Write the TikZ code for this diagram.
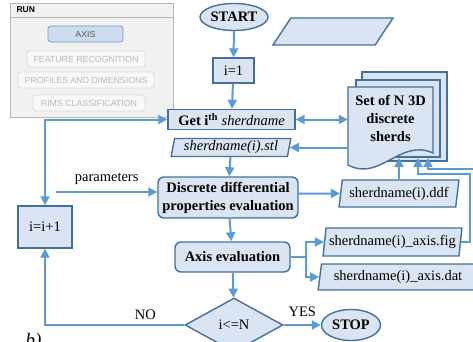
\documentclass[tikz,border=0pt]{standalone}
\usepackage{fontspec}
\setmainfont{Liberation Serif}
\newfontfamily\panelfont{Liberation Sans}
\usetikzlibrary{shapes.geometric,arrows.meta}
\definecolor{boxfill}{RGB}{218,228,242}
\definecolor{boxline}{RGB}{65,113,156}
\definecolor{flowline}{RGB}{91,155,213}
\definecolor{panelbg}{RGB}{241,241,241}
\definecolor{panelline}{RGB}{185,185,185}
\definecolor{btnline}{RGB}{218,218,218}
\definecolor{btntext}{RGB}{185,185,185}
\definecolor{axisfill}{RGB}{205,220,239}
\definecolor{axisline}{RGB}{118,152,194}
\tikzset{
  flow/.style={draw=boxline, fill=boxfill, line width=1.4pt, inner sep=0pt, font=\fontsize{14.5}{18}\selectfont},
  proc/.style={flow, rectangle},
  term/.style={flow, ellipse, font=\fontsize{14.5}{18}\selectfont\bfseries},
  datafile/.style={flow, trapezium, trapezium left angle=78, trapezium right angle=102, trapezium stretches=true},
  link/.style={draw=flowline, line width=2pt, -{Triangle[length=9pt,width=9pt]}},
  twoway/.style={link, {Triangle[length=9pt,width=9pt]}-{Triangle[length=9pt,width=9pt]}},
  btn/.style={draw=btnline, fill=panelbg!50!white, rounded corners=3pt, line width=0.8pt, font=\panelfont\fontsize{8.8}{10}\selectfont, text=btntext},
}
\begin{document}
\begin{tikzpicture}[x=1pt, y=-1pt]
  \useasboundingbox (0,0) rectangle (473,342);
  \clip (0,0) rectangle (473,342);
  \draw[draw=panelline, fill=panelbg] (10,3) rectangle (173,117);
  \draw[panelline] (10,17) -- (173,17);
  \node[anchor=west, font=\panelfont\bfseries\fontsize{8.5}{10}\selectfont] (run) at (13,10) {RUN};
  \node[btn, draw=axisline, fill=axisfill, text=black!65, minimum width=75pt, minimum height=16pt] (axisbtn) at (85.5,34) {AXIS};
  \node[btn, minimum width=118pt, minimum height=16pt] (featbtn) at (86,59) {FEATURE RECOGNITION};
  \node[btn, minimum width=136pt, minimum height=16pt] (profbtn) at (86,80) {PROFILES AND DIMENSIONS};
  \node[btn, minimum width=112pt, minimum height=16pt] (rimsbtn) at (89,103) {RIMS CLASSIFICATION};
  \node[term, minimum width=68pt, minimum height=27pt] (start) at (234,17) {START};
  \node[datafile, inner sep=2pt, minimum width=120pt, minimum height=27pt] (io) at (333,31.5) {};
  \node[proc, minimum width=41pt, minimum height=25pt] (init) at (233.5,70.5) {i=1};
  \node[proc, minimum width=127pt, minimum height=20pt] (get) at (231.5,119.5) {\textbf{Get i\textsuperscript{th}} \textit{sherdname}};
  \node[datafile, minimum width=120pt, minimum height=18pt] (stl) at (231,147.5) {\textit{sherdname(i).stl}};
  \node[proc, rounded corners=6pt, minimum width=140pt, minimum height=41pt, align=center, font=\fontsize{14.5}{18}\selectfont\bfseries] (ddp) at (228,197.5) {Discrete differential\\properties evaluation};
  \node[proc, rounded corners=6pt, minimum width=115pt, minimum height=30pt, font=\fontsize{14.5}{18}\selectfont\bfseries] (axis) at (232.5,257) {Axis evaluation};
  \node[flow, diamond, aspect=1.8, minimum width=98pt, minimum height=54pt] (check) at (234,325) {i<=N};
  \node[proc, minimum width=54pt, minimum height=42pt] (incr) at (45,227) {i=i+1};
  \node[term, minimum width=59pt, minimum height=31pt] (stop) at (351,325) {STOP};
  \node[datafile, minimum width=120pt, minimum height=27pt] (ddf) at (399,193.5) {sherdname(i).ddf};
  \node[datafile, minimum width=139pt, minimum height=28pt] (fig) at (392.5,242) {sherdname(i)\_axis.fig};
  \node[datafile, minimum width=160pt, minimum height=26pt] (dat) at (398,277) {sherdname(i)\_axis.dat};
  \draw[draw=boxline, fill=boxfill, line width=1.4pt] (362,72) rectangle (447,161);
  \draw[draw=boxline, fill=boxfill, line width=1.4pt] (356,80) rectangle (440,157);
  \draw[draw=boxline, fill=boxfill, line width=1.4pt] (348,87) -- (433,87) -- (433,153) .. controls (400,138) and (380,182) .. (348,165) -- cycle;
  \node[align=center, inner sep=0pt, minimum width=85pt, font=\fontsize{14.5}{18}\selectfont\bfseries] (sherds) at (390.5,118) {Set of N 3D\\discrete\\sherds};
  \node[anchor=base west, font=\fontsize{19}{20}\selectfont\itshape] (tag) at (22,346) {b)};
  \coordinate (par) at (56,192);
  \coordinate (fork) at (306,257);
  \coordinate (wave) at (0,158);
  \draw[link] (start) -- (init);
  \draw[link] (init) -- (get);
  \draw[link] (stl) -- (ddp);
  \draw[link] (ddp) -- (axis);
  \draw[link] (axis) -- (check);
  \draw[link] (check) -- node[above=4pt, font=\fontsize{14.5}{18}\selectfont] {YES} (stop);
  \draw[link] (check) -| node[pos=0.14, above=1pt, font=\fontsize{14.5}{18}\selectfont] {NO} (incr);
  \draw[twoway] (incr) |- (get);
  \draw[link] (par) -- node[above=3pt, font=\fontsize{14.5}{18}\selectfont] {parameters} (par -| ddp.west);
  \draw[link] (ddp.east |- ddf) -- (ddf);
  \draw[twoway] (get) -- (get -| sherds.west);
  \draw[link] (stl.east -| sherds.west) -- (stl.east);
  \draw[link] (ddf.north) -- (ddf.north |- wave);
  \draw[link] (fig.east) -| (470,174) -| (418,158);
  \draw[link] (dat.east) -| (480,169) -| (428,158);
  \draw[draw=flowline, line width=2pt] (axis) -- (fork);
  \draw[link] (fork) |- (fig);
  \draw[link] (fork) |- (dat);
\end{tikzpicture}
\end{document}
